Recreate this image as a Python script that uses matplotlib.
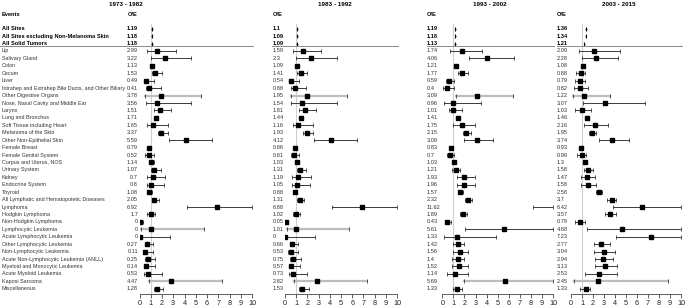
import matplotlib
matplotlib.use("Agg")
import matplotlib.pyplot as plt
from matplotlib.transforms import blended_transform_factory

plt.rcParams['font.family'] = ['Liberation Sans', 'DejaVu Sans']

periods = ["1973 - 1982", "1983 - 1992", "1993 - 2002", "2003 - 2015"]

summary_events = ["All Sites", "All Sites excluding Non-Melanoma Skin", "All Solid Tumors"]
events = ["Lip", "Salivary Gland", "Colon", "Cecum", "Liver",
          "Intrahep and Extrahep Bile Ducts, and Other Biliary", "Other Digestive Organs",
          "Nose, Nasal Cavity and Middle Ear", "Larynx", "Lung and Bronchus",
          "Soft Tissue including Heart", "Melanoma of the Skin", "Other Non-Epithelial Skin",
          "Female Breast", "Female Genital System", "Corpus and Uterus, NOS", "Urinary System",
          "Kidney", "Endocrine System", "Thyroid", "All Lymphatic and Hematopoietic Diseases",
          "Lymphoma", "Hodgkin Lymphoma", "Non-Hodgkin Lymphoma", "Lymphocytic Leukemia",
          "Acute Lymphocytic Leukemia", "Other Lymphocytic Leukemia", "Non-Lymphocytic Leukemia",
          "Acute Non-Lymphocytic Leukemia (ANLL)", "Myeloid and Monocytic Leukemia",
          "Acute Myeloid Leukemia", "Kaposi Sarcoma", "Miscellaneous"]

# O/E values (3 summary rows first, then the events)
oe_7382 = [1.19, 1.18, 1.18,
           2.99, 3.22, 1.13, 1.53, 0.49, 0.41, 3.78, 3.56, 1.51, 1.71, 1.65, 3.37, 5.59,
           0.79, 0.52, 1.14, 1.07, 0.7, 0.8, 1.08, 2.05, 6.92, 1.7, 0, 0, 0,
           0.27, 0.11, 0.25, 0.14, 0.53, 4.47, 1.28]

oe_8392 = [1.1, 1.09, 1.09,
           1.59, 2.3, 1.09, 1.41, 0.54, 0.88, 1.95, 1.54, 1.81, 1.44, 1.16, 1.93, 4.12,
           0.86, 0.81, 1.03, 1.31, 1.19, 1.05, 0.88, 1.31, 6.88, 1.02, 0.05, 1.01, 0,
           0.66, 0.53, 0.75, 0.57, 0.73, 2.82, 1.53]
lo_8392 = [1.04, 1.03, 1.02,
           0.7, 1.0, 0.93, 1.08, 0.36, 0.54, 0.5, 0.56, 1.25, 1.3, 0.7, 1.6, 2.6,
           0.72, 0.5, 0.85, 1.04, 0.65, 0.65, 0.72, 1.1, 4.2, 0.7, 0.0, 0.15, 0.0,
           0.45, 0.3, 0.45, 0.36, 0.36, 0.8, 1.28]
hi_8392 = [1.16, 1.15, 1.16,
           3.2, 4.6, 1.28, 1.98, 1.25, 1.9, 5.5, 4.6, 2.8, 1.6, 2.5, 2.5, 6.4,
           1.02, 1.25, 1.25, 1.9, 2.3, 2.2, 1.08, 1.7, 10.5, 1.34, 0.3, 5.7, 2.7,
           1.2, 1.2, 1.4, 1.34, 2.0, 7.3, 2.1]

oe_9302 = [1.19, 1.18, 1.13,
           1.74, 4.06, 1.21, 1.77, 0.59, 0.4, 3.09, 0.96, 1.01, 1.41, 1.75, 2.15, 3.09,
           0.83, 0.7, 1.03, 1.21, 1.93, 1.96, 1.57, 2.32, 11.62, 1.89, 0.43, 5.61, 1.33,
           1.42, 1.56, 1.4, 1.52, 1.14, 5.69, 1.33]
lo_9302 = [1.13, 1.12, 1.06,
           0.72, 2.37, 1.05, 1.38, 0.3, 0.06, 1.26, 0.12, 0.57, 1.3, 0.96, 1.83, 2.0,
           0.7, 0.42, 0.9, 0.87, 1.32, 1.32, 1.41, 2.07, 8.2, 1.6, 0.2, 2.05, 0.15,
           0.95, 1.0, 0.9, 0.9, 0.45, 2.0, 1.0]
hi_9302 = [1.25, 1.24, 1.2,
           3.63, 6.5, 1.45, 2.3, 1.1, 1.1, 6.4, 3.5, 1.77, 1.55, 2.97, 2.58, 4.6,
           1.0, 1.1, 1.2, 1.62, 2.97, 2.97, 1.86, 2.67, 15.5, 2.26, 0.8, 12.0, 4.85,
           2.0, 2.35, 2.0, 2.35, 2.35, 12.5, 1.75]

oe_0315 = [1.36, 1.34, 1.21,
           2.09, 2.28, 1.08, 0.88, 0.79, 0.82, 1.22, 3.07, 1.03, 1.46, 2.16, 1.95, 3.74,
           0.93, 0.99, 1.3, 1.58, 1.47, 1.58, 2.58, 3.7, 6.42, 3.57, 0.79, 4.68, 7.23,
           2.77, 3.04, 2.94, 3.13, 2.53, 2.45, 1.33]
lo_0315 = [1.3, 1.28, 1.15,
           0.7, 1.0, 0.9, 0.48, 0.4, 0.24, 0.15, 1.06, 0.4, 1.3, 1.15, 1.6, 2.57,
           0.78, 0.54, 1.12, 1.15, 0.94, 0.94, 2.27, 3.26, 3.78, 3.1, 0.33, 1.45, 4.1,
           2.05, 2.1, 2.15, 2.15, 1.3, 0.24, 0.85]
hi_0315 = [1.42, 1.4, 1.27,
           4.47, 4.3, 1.25, 1.3, 1.24, 1.54, 3.5, 6.7, 1.8, 1.6, 3.4, 2.3, 5.3,
           1.08, 1.39, 1.45, 1.96, 2.15, 2.27, 2.8, 4.08, 10.8, 4.08, 1.3, 11.0, 11.5,
           3.5, 4.0, 3.8, 4.2, 4.2, 8.85, 1.75]

# rows whose interval is drawn in light grey
grey_early = ["Other Digestive Organs", "Lymphocytic Leukemia", "Kaposi Sarcoma"]
grey_late = ["Other Digestive Organs", "Kaposi Sarcoma"]

W, H = 685, 307
fig = plt.figure(figsize=(W / 100, H / 100), dpi=100)

row_top, row_bot = -3.6, 32.7
py_top, py_bot = 24.25, 293.96
rows = list(range(-3, len(events)))
names = summary_events + events

# in the source chart the first panel's marks repeat the 1983-1992 estimates
panels = [
    dict(title=periods[0], oe=oe_7382, est=oe_8392, lo=lo_8392, hi=hi_8392, grey=grey_early,
         ax_px=(139.5, 252), text_x=138, ha='right', line_x=0),
    dict(title=periods[1], oe=oe_8392, est=oe_8392, lo=lo_8392, hi=hi_8392, grey=grey_early,
         ax_px=(285, 397), text_x=273, ha='left', line_x=272),
    dict(title=periods[2], oe=oe_9302, est=oe_9302, lo=lo_9302, hi=hi_9302, grey=grey_late,
         ax_px=(442.3, 553), text_x=427, ha='left', line_x=427),
    dict(title=periods[3], oe=oe_0315, est=oe_0315, lo=lo_0315, hi=hi_0315, grey=grey_late,
         ax_px=(571, 681), text_x=557, ha='left', line_x=557),
]

fs = 4.05
fs_events = 3.85
for i, p in enumerate(panels):
    x0, x1 = p['ax_px']
    ax = fig.add_axes([x0 / W, (H - py_bot) / H, (x1 - x0) / W, (py_bot - py_top) / H])
    ax.set_xlim(0, 10)
    ax.set_ylim(row_bot, row_top)
    ax.axvline(1, color='#d0d0d0', lw=0.8, zorder=0)

    for r, name, e, l, h in zip(rows, names, p['est'], p['lo'], p['hi']):
        h = min(h, 10)
        if name in p['grey']:
            col, lw = '#bdbdbd', 1.6
        else:
            col, lw = '#3a3a3a', 0.7
        if r < 0:
            ax.plot([l, h], [r, r], color='#3a3a3a', lw=0.5)
            ax.plot(e, r, marker='|', color='black', ms=2.2, mew=0.8)
            continue
        ax.plot([l, h], [r, r], color=col, lw=lw, zorder=2)
        ax.plot([l, h], [r, r], ls='none', marker='|', color='#3a3a3a', ms=2.4, mew=0.6, zorder=2)
        ax.plot(e, r, marker='s', color='black', ms=2.5, zorder=3)

    for s in ['left', 'right', 'top']:
        ax.spines[s].set_visible(False)
    ax.spines['bottom'].set_bounds(0, 10)
    ax.spines['bottom'].set_color('#444444')
    ax.spines['bottom'].set_linewidth(0.6)
    ax.set_yticks([])
    ax.set_xticks(range(11))
    ax.tick_params(axis='x', length=3, width=0.6, color='#444444', labelsize=5.2,
                   labelcolor='#222222', pad=1.5)

    tr = blended_transform_factory(fig.transFigure, ax.transData)
    tx = p['text_x'] / W
    # O/E column
    ax.text(tx, -4.97, "O/E", transform=tr, ha=p['ha'], va='center',
            fontsize=fs, fontweight='bold')
    for r, v in zip(rows, p['oe']):
        ax.text(tx, r, f"{v:g}", transform=tr, ha=p['ha'], va='center', fontsize=fs,
                fontweight='bold' if r < 0 else 'normal', color='black' if r < 0 else '#333333')
    # period title centred over the panel
    ax.text((p['line_x'] + x1) / 2 / W, -6.3, p['title'], transform=tr, ha='center',
            va='center', fontsize=4.5, fontweight='bold')
    # rule under the summary rows
    ax.plot([p['line_x'] / W, (x1 + 0.5) / W], [-0.62, -0.62], transform=tr, color='#8a8a8a',
            lw=0.7, clip_on=False)

    if i == 0:
        ax.text(1.5 / W, -4.97, "Events", transform=tr, ha='left', va='center',
                fontsize=fs, fontweight='bold')
        for r, name in zip(rows, names):
            ax.text(1.5 / W, r, name, transform=tr, ha='left', va='center',
                    fontsize=fs if r < 0 else fs_events,
                    fontweight='bold' if r < 0 else 'normal',
                    color='black' if r < 0 else '#333333')

fig.savefig("out.png", dpi=100)
